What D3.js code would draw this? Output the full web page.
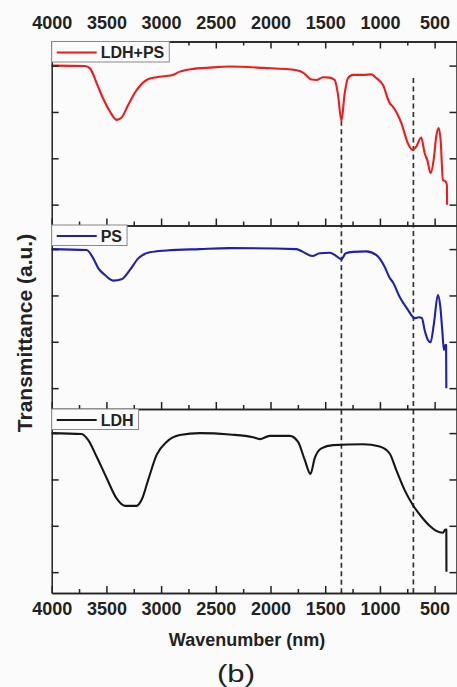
<!DOCTYPE html>
<html lang="en">
<head>
<meta charset="UTF-8">
<title>FTIR - LDH, PS, LDH+PS</title>
<script src="https://d3js.org/d3.v7.min.js"></script>
<style>
  html, body { margin: 0; padding: 0; background: #fbfbfb; }
  svg { display: block; font-family: Arial, "Liberation Sans", sans-serif; }
</style>
</head>
<body>
<svg width="457" height="687"></svg>
<script>
// --- data ---
const seriesNames = ["LDH+PS", "PS", "LDH"];
const xTickValues = [4000, 3500, 3000, 2500, 2000, 1500, 1000, 500];
const xMinorValues = [3750, 3250, 2750, 2250, 1750, 1250, 750];
const yTickValues = [0, 1, 2, 3];
const markerWn = [1352, 694];
const markerTop = [1.81, 2.73];   // in LDH+PS units

const ldhpsWn = [4000, 3696, 3650, 3589, 3532, 3468, 3407, 3361, 3301, 3224, 3133, 3041, 2935, 2904, 2829, 2707, 2585, 2372, 2068, 1763, 1703, 1626, 1580, 1520, 1459, 1413, 1383, 1352, 1322, 1292, 1246, 1155, 1078, 1032, 972, 911, 880, 804, 744, 699, 668, 623, 591, 567, 536, 509, 485, 463, 445, 424, 399, 388, 386];
const ldhpsT  = [3.00, 2.99, 2.94, 2.62, 2.30, 2.01, 1.83, 1.88, 2.15, 2.47, 2.69, 2.75, 2.78, 2.79, 2.87, 2.93, 2.95, 2.98, 2.95, 2.90, 2.85, 2.70, 2.69, 2.75, 2.74, 2.69, 2.37, 1.81, 2.40, 2.73, 2.80, 2.80, 2.81, 2.73, 2.58, 2.19, 2.11, 1.76, 1.32, 1.18, 1.25, 1.45, 1.11, 0.96, 0.68, 0.96, 1.47, 1.65, 1.39, 0.53, 0.50, 0.42, 0.00];

const psWn = [4000, 3681, 3620, 3575, 3513, 3438, 3361, 3285, 3209, 3103, 2950, 2646, 2372, 1763, 1703, 1617, 1550, 1459, 1398, 1352, 1313, 1246, 1124, 1032, 957, 911, 880, 820, 744, 683, 643, 616, 591, 561, 537, 506, 470, 448, 430, 415, 402, 395, 393];
const psT  = [3.00, 2.98, 2.80, 2.59, 2.44, 2.32, 2.35, 2.55, 2.80, 2.93, 2.97, 3.00, 3.02, 3.00, 2.94, 2.85, 2.91, 2.92, 2.85, 2.78, 2.91, 2.94, 2.95, 2.87, 2.62, 2.38, 2.28, 1.97, 1.69, 1.51, 1.53, 1.51, 1.25, 1.04, 0.99, 1.40, 2.01, 1.76, 1.25, 0.82, 0.93, 0.93, 0.00];

const ldhWn = [4000, 3726, 3666, 3589, 3498, 3407, 3331, 3224, 3178, 3118, 3041, 2950, 2829, 2646, 2372, 2159, 2098, 2007, 1824, 1748, 1687, 1635, 1596, 1535, 1429, 1155, 1002, 911, 850, 774, 699, 622, 546, 485, 424, 402, 393, 392];
const ldhT  = [3.00, 2.98, 2.85, 2.49, 2.03, 1.59, 1.43, 1.43, 1.56, 1.99, 2.53, 2.81, 2.96, 3.00, 2.97, 2.91, 2.87, 2.94, 2.94, 2.81, 2.42, 2.12, 2.46, 2.67, 2.74, 2.76, 2.71, 2.56, 2.20, 1.77, 1.45, 1.20, 1.00, 0.89, 0.85, 0.92, 0.92, 0.01];

const seriesWn = [ldhpsWn, psWn, ldhWn];
const seriesT = [ldhpsT, psT, ldhT];
const seriesColor = ["#f21a1a", "#1f1fb5", "#161616"];

// --- layout ---
const svg = d3.select("svg");
const bg = "#fbfbfb";
const left = 51.7, right = 456.5;
const panelTops = [41.5, 225, 409];
const panelH = 184;
const axisColor = "#222";

const x = d3.scaleLinear().domain([4000, 300]).range([left, right]);
const yScales = panelTops.map(t => d3.scaleLinear().domain([-0.45, 3.52]).range([t + panelH, t]));

function styleAxis(g) {
    g.selectAll("path, line").attr("stroke", axisColor).attr("stroke-width", 1.5);
    g.selectAll("text").attr("fill", "#222").attr("font-size", 18).attr("font-weight", "bold");
}

// dashed guide lines (behind curves)
markerWn.forEach((w, i) => {
    svg.append("line")
        .attr("x1", x(w)).attr("x2", x(w))
        .attr("y1", yScales[0](markerTop[i]))
        .attr("y2", panelTops[2] + panelH)
        .attr("stroke", "#333")
        .attr("stroke-width", 1.7)
        .attr("stroke-dasharray", "5,3.5");
});

panelTops.forEach((top, i) => {
    const y = yScales[i];
    const g = svg.append("g");
    const pts = seriesWn[i].map((w, j) => [w, seriesT[i][j]]);

    g.append("path")
        .datum(pts)
        .attr("fill", "none")
        .attr("stroke", seriesColor[i])
        .attr("stroke-width", 2.1)
        .attr("stroke-linejoin", "round")
        .attr("d", d3.line().x(d => x(d[0])).y(d => y(d[1])).curve(d3.curveMonotoneX));

    // left / right
    g.append("g").attr("transform", `translate(${left},0)`)
        .call(d3.axisLeft(y).tickValues(yTickValues).tickSize(-7).tickSizeOuter(0).tickFormat(""))
        .call(styleAxis);
    g.append("g").attr("transform", `translate(${right},0)`)
        .call(d3.axisRight(y).tickValues(yTickValues).tickSize(-7).tickSizeOuter(0).tickFormat(""))
        .call(styleAxis);

    // bottom
    const bottom = top + panelH;
    g.append("g").attr("transform", `translate(0,${bottom})`)
        .call(d3.axisBottom(x).tickValues(xTickValues).tickSize(-7).tickSizeOuter(0)
            .tickPadding(9.5).tickFormat(i === 2 ? d3.format("d") : ""))
        .call(styleAxis);
    g.append("g").attr("transform", `translate(0,${bottom})`)
        .call(d3.axisBottom(x).tickValues(xMinorValues).tickSize(-4).tickSizeOuter(0).tickFormat(""))
        .call(styleAxis);

    if (i === 0) {
        g.append("g").attr("transform", `translate(0,${top})`)
            .call(d3.axisTop(x).tickValues(xTickValues).tickSize(-7).tickSizeOuter(0)
                .tickPadding(12.5).tickFormat(d3.format("d")))
            .call(styleAxis);
        g.append("g").attr("transform", `translate(0,${top})`)
            .call(d3.axisTop(x).tickValues(xMinorValues).tickSize(-4).tickSizeOuter(0).tickFormat(""))
            .call(styleAxis);
    }

    // legend
    const lg = g.append("g");
    const box = lg.append("rect")
        .attr("x", left).attr("y", top).attr("height", 20.5)
        .attr("fill", bg).attr("stroke", "#888").attr("stroke-width", 1);
    lg.append("line")
        .attr("x1", left + 5).attr("x2", left + 45)
        .attr("y1", top + 11).attr("y2", top + 11)
        .attr("stroke", seriesColor[i]).attr("stroke-width", 2);
    const t = lg.append("text")
        .attr("x", left + 49).attr("y", top + 16.8)
        .attr("font-size", 16).attr("font-weight", "bold").attr("fill", "#222")
        .text(seriesNames[i]);
    box.attr("width", 49 + t.node().getComputedTextLength() + 5);
});

// titles
svg.append("text")
    .attr("transform", "translate(32,333) rotate(-90)")
    .attr("text-anchor", "middle")
    .attr("font-size", 21).attr("font-weight", "bold").attr("fill", "#222")
    .text("Transmittance (a.u.)");

svg.append("text")
    .attr("x", 247).attr("y", 646)
    .attr("text-anchor", "middle")
    .attr("font-size", 18).attr("font-weight", "bold").attr("fill", "#222")
    .text("Wavenumber (nm)");

svg.append("text")
    .attr("x", 236).attr("y", 682)
    .attr("text-anchor", "middle")
    .attr("font-size", 23).attr("fill", "#222")
    .attr("textLength", 38).attr("lengthAdjust", "spacingAndGlyphs")
    .text("(b)");
</script>
</body>
</html>
